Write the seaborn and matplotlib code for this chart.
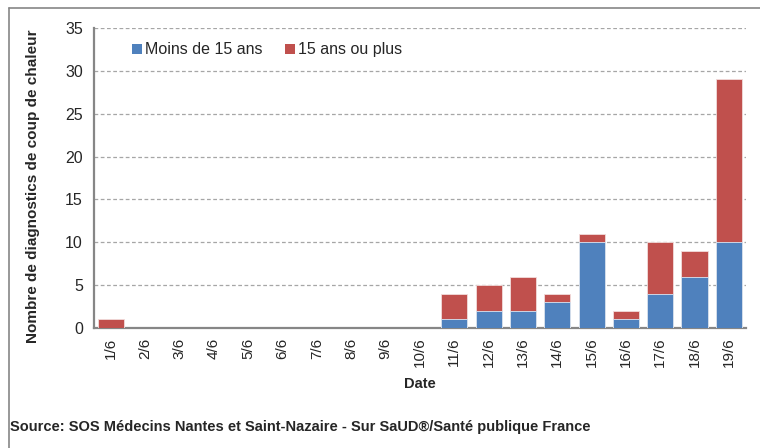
import matplotlib
matplotlib.use("Agg")
import matplotlib.pyplot as plt
import seaborn as sns
import pandas as pd
from matplotlib.patches import Patch
from matplotlib.lines import Line2D

dates = ["1/6", "2/6", "3/6", "4/6", "5/6", "6/6", "7/6", "8/6", "9/6", "10/6",
         "11/6", "12/6", "13/6", "14/6", "15/6", "16/6", "17/6", "18/6", "19/6"]
moins_15 = [0, 0, 0, 0, 0, 0, 0, 0, 0, 0, 1, 2, 2, 3, 10, 1, 4, 6, 10]
plus_15 = [1, 0, 0, 0, 0, 0, 0, 0, 0, 0, 3, 3, 4, 1, 1, 1, 6, 3, 19]
series_names = ["Moins de 15 ans", "15 ans ou plus"]
colors = ["#4F81BD", "#C0504D"]

df = pd.DataFrame({"Date": dates, "moins": moins_15, "plus": plus_15})
df["total"] = df["moins"] + df["plus"]

sns.set_style("white")
plt.rcParams["font.family"] = ["Liberation Sans", "DejaVu Sans"]

fig = plt.figure(figsize=(7.6, 4.48), dpi=100)
ax = fig.add_axes([94/760, 120/448, 652/760, 300/448])

sns.barplot(data=df, x="Date", y="total", order=dates, color=colors[1],
            width=0.76, saturation=1, ax=ax, edgecolor="#F2DCDB", linewidth=0.6, zorder=3)
sns.barplot(data=df, x="Date", y="moins", order=dates, color=colors[0],
            width=0.76, saturation=1, ax=ax, edgecolor="#DCE6F2", linewidth=0.6, zorder=4)

ax.set_xlim(-0.5, len(dates) - 0.5)
ax.set_ylim(0, 35)
ax.set_yticks(range(0, 36, 5))
ax.yaxis.grid(True, linestyle=(0, (3, 2)), color="#A6A6A6", linewidth=0.9, zorder=0)
ax.set_axisbelow(True)

for s in ["top", "right"]:
    ax.spines[s].set_visible(False)
for s in ["left", "bottom"]:
    ax.spines[s].set_color("#868686")
    ax.spines[s].set_linewidth(1.6)

ax.set_xticks(range(len(dates)))
ax.set_xticklabels(dates, rotation=90, fontsize=11)
ax.set_xticks([i - 0.5 for i in range(len(dates) + 1)], minor=True)
ax.tick_params(axis="x", which="major", length=0, pad=7)
ax.tick_params(axis="x", which="minor", length=5, width=1.2, color="#868686", direction="out")
ax.tick_params(axis="y", which="major", length=5, width=1.2, color="#868686",
               direction="out", labelsize=11.5, pad=3)

ax.set_xlabel("Date", fontsize=10.5, fontweight="bold", labelpad=7)
ax.set_ylabel("Nombre de diagnostics de coup de chaleur", fontsize=11,
              fontweight="bold")
ax.yaxis.set_label_coords((40 - 94) / 652, (328 - 186) / 300)

handles = [Patch(facecolor=colors[0], edgecolor="none"),
           Patch(facecolor=colors[1], edgecolor="none")]
ax.legend(handles, series_names, ncol=2, frameon=False, fontsize=11.5,
          loc="center left", bbox_to_anchor=(0.037, 0.927),
          handlelength=0.6, handleheight=0.6, handletextpad=0.2, columnspacing=1.4)

# outer frame (left and top only)
fig.add_artist(Line2D([9/760, 9/760], [0, 1 - 8/448], transform=fig.transFigure,
                      color="#868686", linewidth=1.2))
fig.add_artist(Line2D([9/760, 1], [1 - 8/448, 1 - 8/448], transform=fig.transFigure,
                      color="#868686", linewidth=1.2))

fig.text(10/760, 1 - 427/448,
         "Source: SOS Médecins Nantes et Saint-Nazaire - Sur SaUD\u00ae/Santé publique France",
         fontsize=10.5, fontweight="bold", va="center", ha="left")

fig.savefig("out.png", dpi=100)
